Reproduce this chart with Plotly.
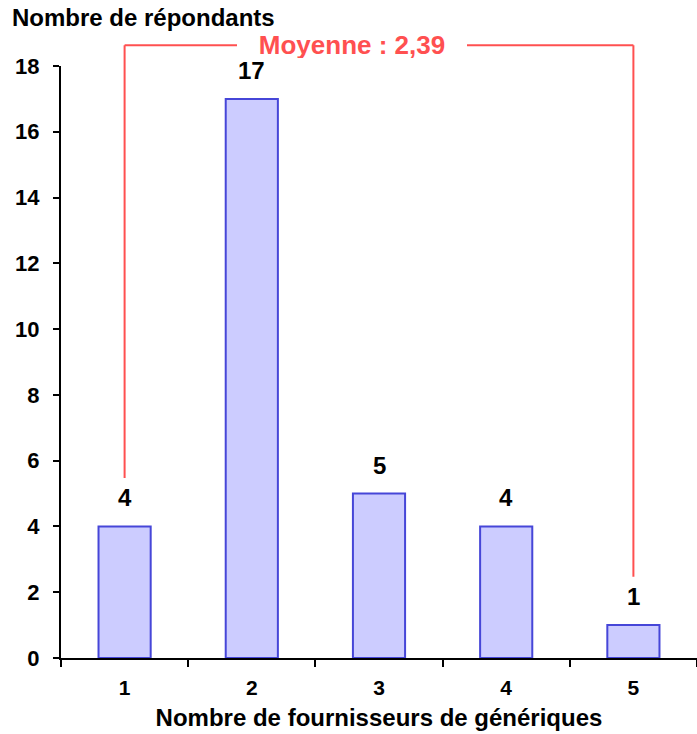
import plotly.graph_objects as go

# Survey results: number of generic suppliers per respondent
categories = ["1", "2", "3", "4", "5"]
respondents = [4, 17, 5, 4, 1]
mean_label = "Moyenne : 2,39"
y_max = 18
y_ticks = list(range(0, 19, 2))

FONT = "Liberation Sans, Arial, sans-serif"
RED = "#FF5050"
BAR_FILL = "#CCCCFF"
BAR_LINE = "#4646D8"

fig = go.Figure()

fig.add_trace(go.Bar(
    x=categories,
    y=respondents,
    width=0.41,
    marker=dict(color=BAR_FILL, line=dict(color=BAR_LINE, width=2)),
    hoverinfo="skip",
))

# Value labels above each bar (category axis positions are indices)
for i, val in enumerate(respondents):
    fig.add_annotation(
        x=i, y=val, xref="x", yref="y",
        text=str(val), showarrow=False,
        yanchor="bottom", yshift=13,
        font=dict(family=FONT, size=24, color="black", weight="bold"),
    )

# Bracket spanning the distribution, labelled with the mean
first_i, last_i = 0, len(categories) - 1
bracket_top = 18.63 / y_max
gap = 1.47
left_bottom = (respondents[first_i] + gap) / y_max
right_bottom = (respondents[last_i] + gap) / y_max
line_style = dict(color=RED, width=2)
fig.add_shape(type="line", xref="x", yref="paper",
              x0=first_i, x1=first_i, y0=left_bottom, y1=bracket_top, line=line_style)
fig.add_shape(type="line", xref="x", yref="paper",
              x0=last_i, x1=last_i, y0=right_bottom, y1=bracket_top, line=line_style)
fig.add_shape(type="line", xref="x", yref="paper",
              x0=first_i, x1=last_i, y0=bracket_top, y1=bracket_top, line=line_style)
fig.add_annotation(
    x=1.79, y=bracket_top, xref="x", yref="paper",
    text=mean_label, showarrow=False,
    xanchor="center", yanchor="middle",
    bgcolor="white", borderpad=0, borderwidth=0,
    width=230, height=26,
    font=dict(family=FONT, size=26, color=RED, weight="bold"),
)

# Vertical axis title, placed above the axis
fig.add_annotation(
    x=0, y=1, xref="paper", yref="paper",
    xshift=-51, yshift=49,
    text="Nombre de répondants", showarrow=False,
    xanchor="left", yanchor="middle",
    font=dict(family=FONT, size=24, color="black", weight="bold"),
)

fig.update_layout(
    width=697, height=734,
    margin=dict(l=61, r=0, t=66, b=76),
    plot_bgcolor="white", paper_bgcolor="white",
    showlegend=False,
    xaxis=dict(
        type="category",
        range=[-0.5, len(categories) - 0.5],
        tickson="boundaries",
        ticks="outside", ticklen=7, tickwidth=2, tickcolor="black",
        showline=True, linecolor="black", linewidth=2,
        showgrid=False,
        ticklabelstandoff=10,
        tickfont=dict(family=FONT, size=21, color="black", weight="bold"),
        title=dict(text="Nombre de fournisseurs de génériques",
                   font=dict(family=FONT, size=24, color="black", weight="bold"),
                   standoff=11),
    ),
    yaxis=dict(
        range=[0, y_max],
        tickvals=y_ticks,
        ticks="outside", ticklen=6, tickwidth=2, tickcolor="black",
        showline=True, linecolor="black", linewidth=2,
        showgrid=False, zeroline=False,
        tickfont=dict(family=FONT, size=22, color="black", weight="bold"),
        ticklabelstandoff=9,
    ),
)

fig.write_html("out.html")
